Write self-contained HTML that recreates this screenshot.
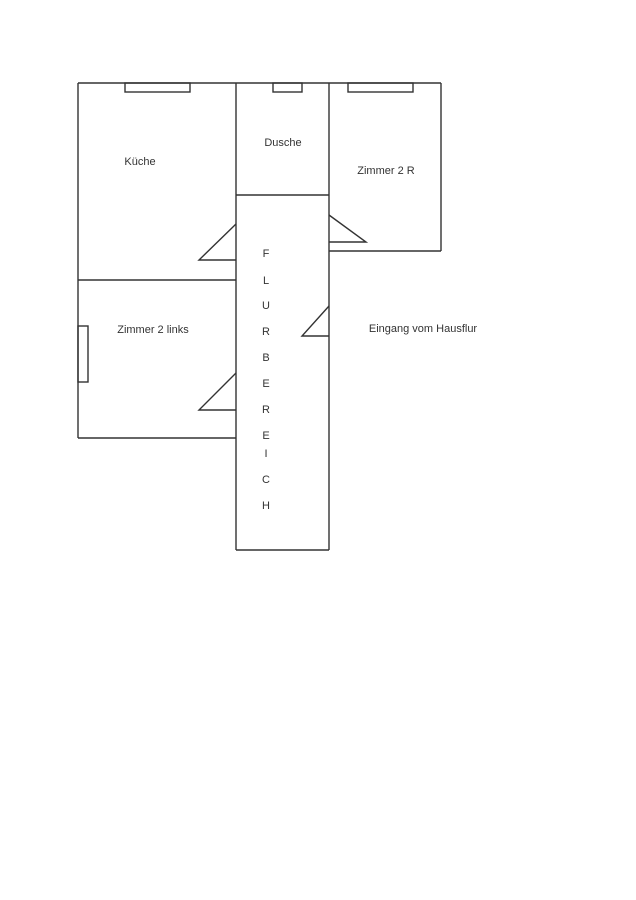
<!DOCTYPE html>
<html><head><meta charset="utf-8"><style>
html,body{margin:0;padding:0;background:#fff;width:636px;height:900px;overflow:hidden}
svg{display:block}
text{font-family:"Liberation Sans",sans-serif;font-size:11px;fill:#333}
</style></head><body>
<svg width="636" height="900" viewBox="0 0 636 900" xmlns="http://www.w3.org/2000/svg">
<g fill="none" stroke="#333" stroke-width="1.4">
<!-- outer top -->
<line x1="78" y1="83" x2="441" y2="83"/>
<line x1="78" y1="83" x2="78" y2="438"/>
<line x1="78" y1="438" x2="236" y2="438"/>
<line x1="78" y1="280" x2="236" y2="280"/>
<line x1="236" y1="83" x2="236" y2="550"/>
<line x1="329" y1="83" x2="329" y2="550"/>
<line x1="236" y1="550" x2="329" y2="550"/>
<line x1="236" y1="195" x2="329" y2="195"/>
<line x1="441" y1="83" x2="441" y2="251"/>
<line x1="329" y1="251" x2="441" y2="251"/>
<!-- windows -->
<rect x="125" y="83" width="65" height="9"/>
<rect x="273" y="83" width="29" height="9"/>
<rect x="348" y="83" width="65" height="9"/>
<rect x="78" y="326" width="10" height="56"/>
<!-- doors -->
<polyline points="236,224 199,260 236,260"/>
<polyline points="329,215 366,242 329,242"/>
<polyline points="329,306 302,336 329,336"/>
<polyline points="236,373 199,410 236,410"/>
</g>
<text x="140" y="165" text-anchor="middle">Küche</text>
<text x="283" y="146" text-anchor="middle">Dusche</text>
<text x="386" y="174" text-anchor="middle">Zimmer 2 R</text>
<text x="153" y="333" text-anchor="middle">Zimmer 2 links</text>
<text x="423" y="332" text-anchor="middle">Eingang vom Hausflur</text>
<g text-anchor="middle" font-size="10">
<text x="266" y="257">F</text>
<text x="266" y="284">L</text>
<text x="266" y="309">U</text>
<text x="266" y="335">R</text>
<text x="266" y="361">B</text>
<text x="266" y="387">E</text>
<text x="266" y="413">R</text>
<text x="266" y="439">E</text>
<text x="266" y="457">I</text>
<text x="266" y="483">C</text>
<text x="266" y="509">H</text>
</g>
</svg>
</body></html>
